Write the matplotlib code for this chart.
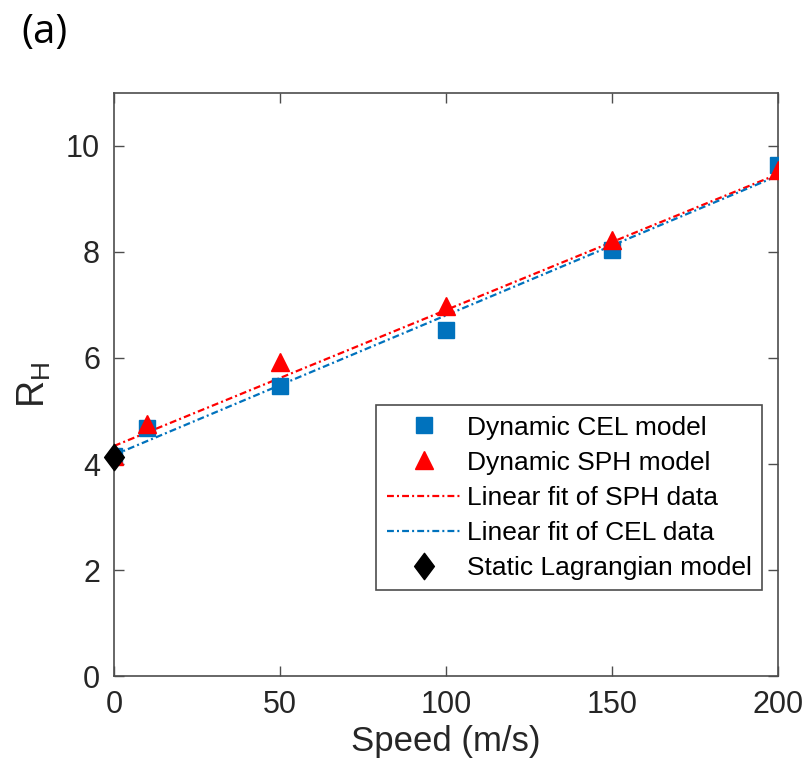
import numpy as np
import matplotlib.pyplot as plt
from matplotlib.path import Path

plt.rcParams['font.family'] = ['Liberation Sans', 'DejaVu Sans']
plt.rcParams['mathtext.fontset'] = 'custom'
plt.rcParams['mathtext.rm'] = 'Liberation Sans'
plt.rcParams['mathtext.it'] = 'Liberation Sans'

# data
speed = [0, 10, 50, 100, 150, 200]
cel_rh = [4.15, 4.68, 5.48, 6.52, 8.04, 9.64]
sph_rh = [4.15, 4.76, 5.93, 6.99, 8.22, 9.55]
static_speed = [0]
static_rh = [4.13]

fit_speed = [0, 200]
sph_fit = [4.34, 9.47]
cel_fit = [4.17, 9.44]

blue = '#0072BD'
red = '#FF0000'
txt = '#262626'
dashdot = (3.1, 1.4, 0.9, 1.4)

# MATLAB-style diamond, a bit wider than matplotlib's thin one
diamond = Path([(0, 1), (0.75, 0), (0, -1), (-0.75, 0), (0, 1)],
               [Path.MOVETO, Path.LINETO, Path.LINETO, Path.LINETO, Path.CLOSEPOLY])

fig = plt.figure(figsize=(8.06, 7.71), dpi=100)
ax = fig.add_axes([0.1414, 0.1232, 0.8239, 0.7562])

ax.plot(speed, cel_rh, 's', color=blue, markersize=12, label='Dynamic CEL model', zorder=3)
ax.plot(speed, sph_rh, '^', color=red, markersize=13, label='Dynamic SPH model', zorder=4)
ax.plot(fit_speed, sph_fit, color=red, lw=1.6, dashes=dashdot,
        label='Linear fit of SPH data', zorder=2)
ax.plot(fit_speed, cel_fit, color=blue, lw=1.6, dashes=dashdot,
        label='Linear fit of CEL data', zorder=2)
ax.plot(static_speed, static_rh, marker=diamond, ls='none', color='black', markersize=19,
        label='Static Lagrangian model', clip_on=False, zorder=5)

ax.set_xlim(0, 200)
ax.set_ylim(0, 11)
ax.set_xticks([0, 50, 100, 150, 200])
ax.set_yticks([0, 2, 4, 6, 8, 10])
ax.tick_params(direction='in', top=True, right=True, length=7, width=1, colors='#4d4d4d',
               labelsize=22, labelcolor=txt, pad=10)
for s in ax.spines.values():
    s.set_color('#4d4d4d')
    s.set_linewidth(1.2)

ax.set_xlabel('Speed (m/s)', fontsize=25, color=txt, labelpad=4)
ax.set_ylabel(r'R$_\mathrm{H}$', fontsize=27, color=txt)
ax.yaxis.set_label_coords(-0.092, 0.5)

leg = ax.legend(loc='upper left', bbox_to_anchor=(0.3946, 0.4648), fontsize=19,
                handlelength=2.8, handletextpad=0.25, labelspacing=0.42,
                borderpad=0.4, borderaxespad=0, fancybox=False, framealpha=1,
                edgecolor='#4d4d4d')
leg.get_frame().set_linewidth(1.2)
for t in leg.get_texts():
    t.set_color('black')

fig.text(0.027, 0.958, '(a)', fontsize=29, family=['Open Sans', 'DejaVu Sans'], va='center')

fig.savefig('out.png', dpi=100)
